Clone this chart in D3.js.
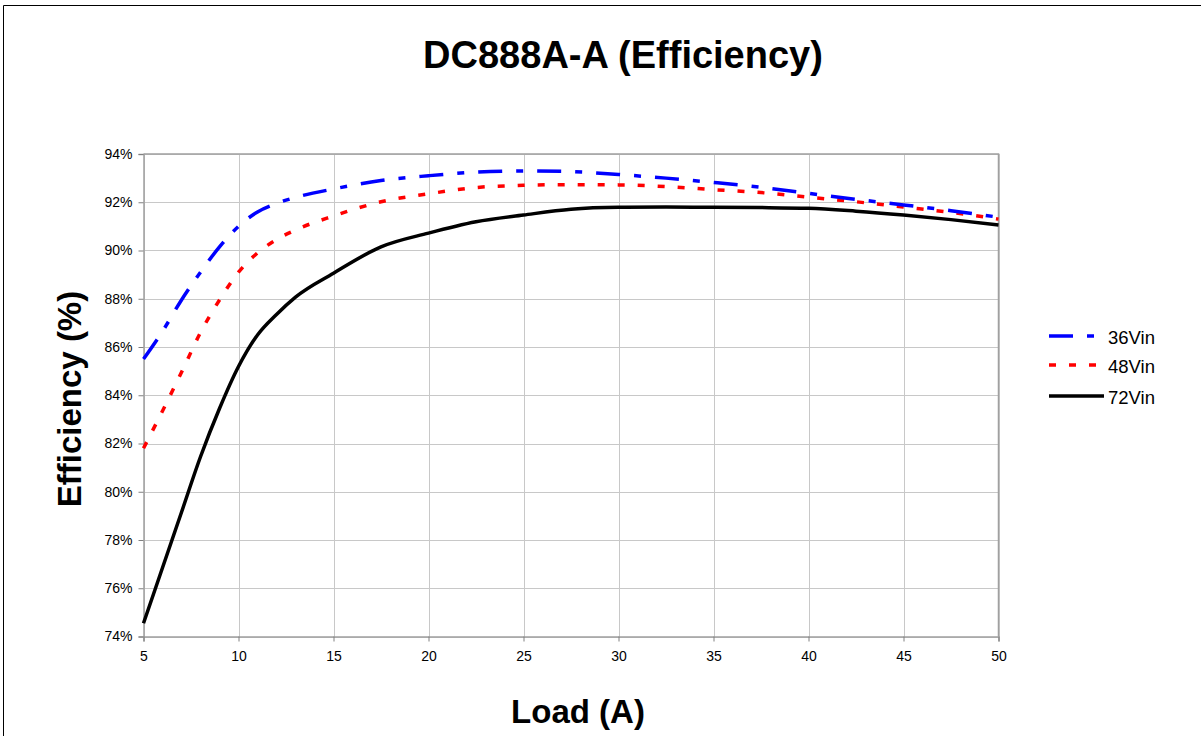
<!DOCTYPE html>
<html><head><meta charset="utf-8">
<script src="https://cdn.jsdelivr.net/npm/d3@7"></script>
<style>
body{margin:0;background:#fff;}
svg{display:block;font-family:"Liberation Sans",Arial,sans-serif;}
</style></head>
<body>
<svg id="c" width="1201" height="736"></svg>
<script>
const loads = [5,6,7,8,9,10,11,12,13,15,17.5,20,22.5,25,27.5,30,32.5,35,37.5,40,42.5,45,47.5,50];
const eff36 = [85.5,86.65,87.95,89.1,90.15,91.0,91.6,91.95,92.2,92.55,92.9,93.1,93.25,93.3,93.27,93.15,93.0,92.82,92.62,92.37,92.12,91.89,91.65,91.38];
const eff48 = [81.8,83.35,84.95,86.6,87.95,89.1,89.9,90.45,90.85,91.43,92.02,92.35,92.61,92.7,92.73,92.72,92.65,92.52,92.4,92.21,92.02,91.8,91.58,91.3];
const eff72 = [74.55,76.85,79.15,81.45,83.45,85.19,86.5,87.35,88.07,89.06,90.15,90.72,91.19,91.47,91.71,91.79,91.8,91.79,91.78,91.75,91.63,91.47,91.28,91.06];
const seriesNames = ["36Vin","48Vin","72Vin"];
const xTicks = [5,10,15,20,25,30,35,40,45,50];
const yTicks = [74,76,78,80,82,84,86,88,90,92,94];
const titleText = "DC888A-A (Efficiency)";
const xLabel = "Load (A)";
const yLabel = "Efficiency (%)";

const svg = d3.select("#c");
// outer frame
svg.append("path").attr("d","M3.5,736 V5.5 H1201").attr("fill","none").attr("stroke","#000").attr("stroke-width",1);

const L=143.5, R=998.5, T=154, B=636.5;
const x = d3.scaleLinear().domain([5,50]).range([L,R]);
const y = d3.scaleLinear().domain([74,94]).range([B,T]);

// gridlines
const g = svg.append("g");
g.selectAll(".hg").data(yTicks).join("line")
  .attr("x1",L).attr("x2",R).attr("y1",d=>Math.round(y(d))+0.5).attr("y2",d=>Math.round(y(d))+0.5)
  .attr("stroke","#c8c8c8").attr("stroke-width",1);
g.selectAll(".vg").data(xTicks).join("line")
  .attr("y1",T).attr("y2",B).attr("x1",d=>Math.round(x(d))+0.5).attr("x2",d=>Math.round(x(d))+0.5)
  .attr("stroke","#c8c8c8").attr("stroke-width",1);
// plot border top/right
svg.append("path").attr("d",`M${L},${T} H${R} V${B}`).attr("fill","none").attr("stroke","#a0a0a0").attr("stroke-width",1.5);

// axes
const yAxis = d3.axisLeft(y).tickValues(yTicks).tickFormat(d=>d+"%").tickSize(5).tickPadding(6);
const xAxis = d3.axisBottom(x).tickValues(xTicks).tickFormat(d3.format("d")).tickSize(5).tickPadding(10);
const ya = svg.append("g").attr("transform",`translate(${L},0)`).call(yAxis);
const xa = svg.append("g").attr("transform",`translate(0,${B})`).call(xAxis);
[ya,xa].forEach(a=>{
  a.select(".domain").attr("stroke","#a0a0a0").attr("stroke-width",1.5);
  a.selectAll(".tick line").attr("stroke","#808080");
  a.selectAll("text").attr("font-size",14).attr("fill","#000").attr("font-family","Liberation Sans, Arial, sans-serif");
});

// lines
const line = d3.line().x(d=>x(d[0])).y(d=>y(d[1])).curve(d3.curveMonotoneX);
const series = [
  {name:seriesNames[0], vals:eff36, color:"#0000ff", dash:"24,14,7,14"},
  {name:seriesNames[1], vals:eff48, color:"#ff0000", dash:"7,13"},
  {name:seriesNames[2], vals:eff72, color:"#000000", dash:null}
];
series.slice().reverse().forEach(s=>{
  svg.append("path").datum(loads.map((l,i)=>[l,s.vals[i]]))
    .attr("d",line).attr("fill","none").attr("stroke",s.color).attr("stroke-width",3.5)
    .attr("stroke-dasharray",s.dash);
});

// legend
const legY = [336,365,396];
series.forEach((s,i)=>{
  svg.append("line").attr("x1",1049).attr("x2",1104).attr("y1",legY[i]).attr("y2",legY[i])
    .attr("stroke",s.color).attr("stroke-width",3.5).attr("stroke-dasharray",s.dash);
  svg.append("text").attr("x",1108).attr("y",legY[i]+8).attr("font-size",18.5).text(s.name);
});

// titles
svg.append("text").attr("x",623).attr("y",68).attr("text-anchor","middle")
  .attr("font-size",38).attr("font-weight","bold").text(titleText);
svg.append("text").attr("x",578).attr("y",723).attr("text-anchor","middle")
  .attr("font-size",33).attr("font-weight","bold").text(xLabel);
svg.append("text").attr("transform","translate(81,399) rotate(-90)").attr("text-anchor","middle")
  .attr("font-size",33).attr("font-weight","bold").text(yLabel);
</script>
</body></html>
